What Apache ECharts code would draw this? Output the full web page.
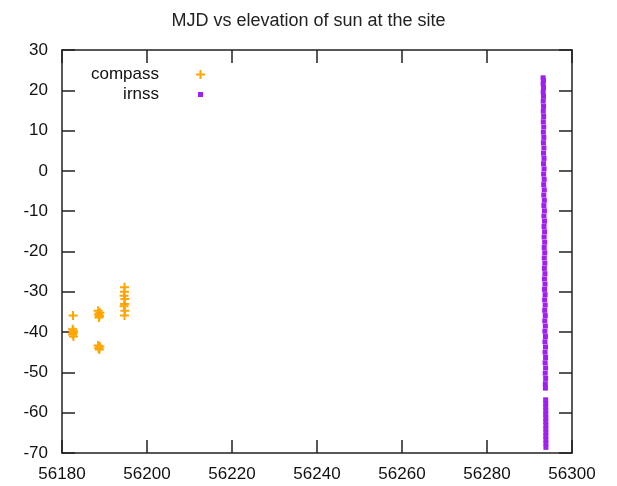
<!DOCTYPE html>
<html>
<head>
<meta charset="utf-8">
<script src="https://cdn.jsdelivr.net/npm/echarts@6/dist/echarts.min.js"></script>
<style>html,body{margin:0;padding:0;background:#fff;}#c{width:617px;height:486px;}</style>
</head>
<body>
<div id="c"></div>
<script>
const titleText = 'MJD vs elevation of sun at the site';
const xTicks = [56180, 56300, 20];
const yTicks = [-70, 30, 10];

const compassMjd = [56182.6, 56182.5, 56182.7, 56182.6, 56182.5, 56182.7,
  56188.5, 56188.9, 56188.6, 56188.8, 56188.7, 56188.5, 56188.9, 56188.6, 56188.8,
  56194.7, 56194.7, 56194.6, 56194.8, 56194.7, 56194.6, 56194.8, 56194.7];
const compassElev = [-35.9, -39.3, -39.8, -40.2, -40.6, -41.1,
  -34.7, -35.2, -35.6, -36.0, -36.4, -43.3, -43.6, -44.0, -44.3,
  -28.9, -30.0, -31.0, -31.8, -33.0, -33.6, -34.7, -35.9];

const irnssMjd = [56293.20, 56293.28, 56293.21, 56293.29, 56293.22, 56293.30, 56293.23, 56293.31,
  56293.24, 56293.33, 56293.25, 56293.35, 56293.26, 56293.37, 56293.27, 56293.39,
  56293.29, 56293.41, 56293.30, 56293.43, 56293.32, 56293.45, 56293.34, 56293.47,
  56293.36, 56293.49, 56293.38, 56293.51, 56293.40, 56293.53, 56293.42, 56293.55,
  56293.44, 56293.57, 56293.46, 56293.59, 56293.48, 56293.61, 56293.50, 56293.63,
  56293.52, 56293.65, 56293.54, 56293.67, 56293.56, 56293.69, 56293.58, 56293.71,
  56293.60, 56293.73, 56293.62, 56293.75, 56293.64, 56293.77, 56293.66, 56293.78,
  56293.68, 56293.79, 56293.70, 56293.80, 56293.72, 56293.74,
  56293.80, 56293.82, 56293.81, 56293.83, 56293.82, 56293.84, 56293.83, 56293.85,
  56293.84, 56293.85, 56293.84, 56293.86, 56293.85, 56293.86];
const irnssElev = [23.1, 22.4, 21.6, 20.7, 19.6, 18.5, 17.3, 16.0,
  14.8, 13.5, 12.2, 10.9, 9.6, 8.3, 7.0, 5.7,
  4.4, 3.1, 1.8, 0.5, -0.8, -2.1, -3.4, -4.7,
  -6.0, -7.3, -8.6, -9.9, -11.2, -12.5, -13.8, -15.1,
  -16.4, -17.7, -19.0, -20.3, -21.6, -22.9, -24.2, -25.5,
  -26.8, -28.1, -29.4, -30.7, -32.0, -33.3, -34.6, -35.9,
  -37.2, -38.5, -39.8, -41.1, -42.4, -43.7, -45.0, -46.3,
  -47.6, -48.9, -50.2, -51.5, -52.8, -53.9,
  -56.8, -57.7, -58.6, -59.5, -60.4, -61.3, -62.2, -63.1,
  -64.0, -64.9, -65.8, -66.7, -67.6, -68.6];

const zip = (a, b) => a.map((v, i) => [v, b[i]]);
const plusPath = 'path://M3.5,0 L5.5,0 L5.5,3.5 L9,3.5 L9,5.5 L5.5,5.5 L5.5,9 L3.5,9 L3.5,5.5 L0,5.5 L0,3.5 L3.5,3.5 Z';
const ORANGE = '#ffa500', PURPLE = '#a020f0';
const FONT = '"Liberation Sans", Arial, sans-serif';

const axisLine = {show: true, onZero: false, lineStyle: {color: '#222', width: 1.5}};
const tick = {show: true, inside: true, length: 13, lineStyle: {color: '#222', width: 1.5}};
const label = {color: '#111', fontSize: 17, fontFamily: FONT, formatter: v => String(v)};

const chart = echarts.init(document.getElementById('c'), null, {renderer: 'canvas'});
chart.setOption({
  animation: false,
  backgroundColor: '#fff',
  title: {text: titleText, left: 'center', top: 7,
    textStyle: {fontSize: 18, fontWeight: 'normal', color: '#222', fontFamily: FONT}},
  grid: {left: 62, right: 45, top: 50, bottom: 33, containLabel: false},
  legend: [
    {data: [{name: 'compass', icon: plusPath}], orient: 'vertical', right: 407, top: 61, align: 'right',
      itemWidth: 9, itemHeight: 9, textStyle: {fontSize: 17, color: '#111', fontFamily: FONT, padding: [0, 32, 0, 0]}},
    {data: [{name: 'irnss', icon: 'rect'}], orient: 'vertical', right: 409, top: 81, align: 'right',
      itemWidth: 5, itemHeight: 5, textStyle: {fontSize: 17, color: '#111', fontFamily: FONT, padding: [0, 34, 0, 0]}}
  ],
  xAxis: [
    {type: 'value', min: xTicks[0], max: xTicks[1], interval: xTicks[2], position: 'bottom',
      axisLine, axisTick: tick, splitLine: {show: false},
      axisLabel: Object.assign({margin: 13}, label)},
    {type: 'value', min: xTicks[0], max: xTicks[1], interval: xTicks[2], position: 'top',
      axisLine, axisTick: tick, splitLine: {show: false}, axisLabel: {show: false}}
  ],
  yAxis: [
    {type: 'value', min: yTicks[0], max: yTicks[1], interval: yTicks[2], position: 'left',
      axisLine, axisTick: tick, splitLine: {show: false},
      axisLabel: Object.assign({margin: 14}, label)},
    {type: 'value', min: yTicks[0], max: yTicks[1], interval: yTicks[2], position: 'right',
      axisLine, axisTick: tick, splitLine: {show: false}, axisLabel: {show: false}}
  ],
  series: [
    {name: 'compass', type: 'scatter', data: zip(compassMjd, compassElev),
      symbol: plusPath, symbolSize: 9, itemStyle: {color: ORANGE, opacity: 1}},
    {name: 'irnss', type: 'scatter', data: zip(irnssMjd, irnssElev),
      symbol: 'rect', symbolSize: 5, itemStyle: {color: PURPLE, opacity: 1}}
  ]
});
</script>
</body>
</html>
